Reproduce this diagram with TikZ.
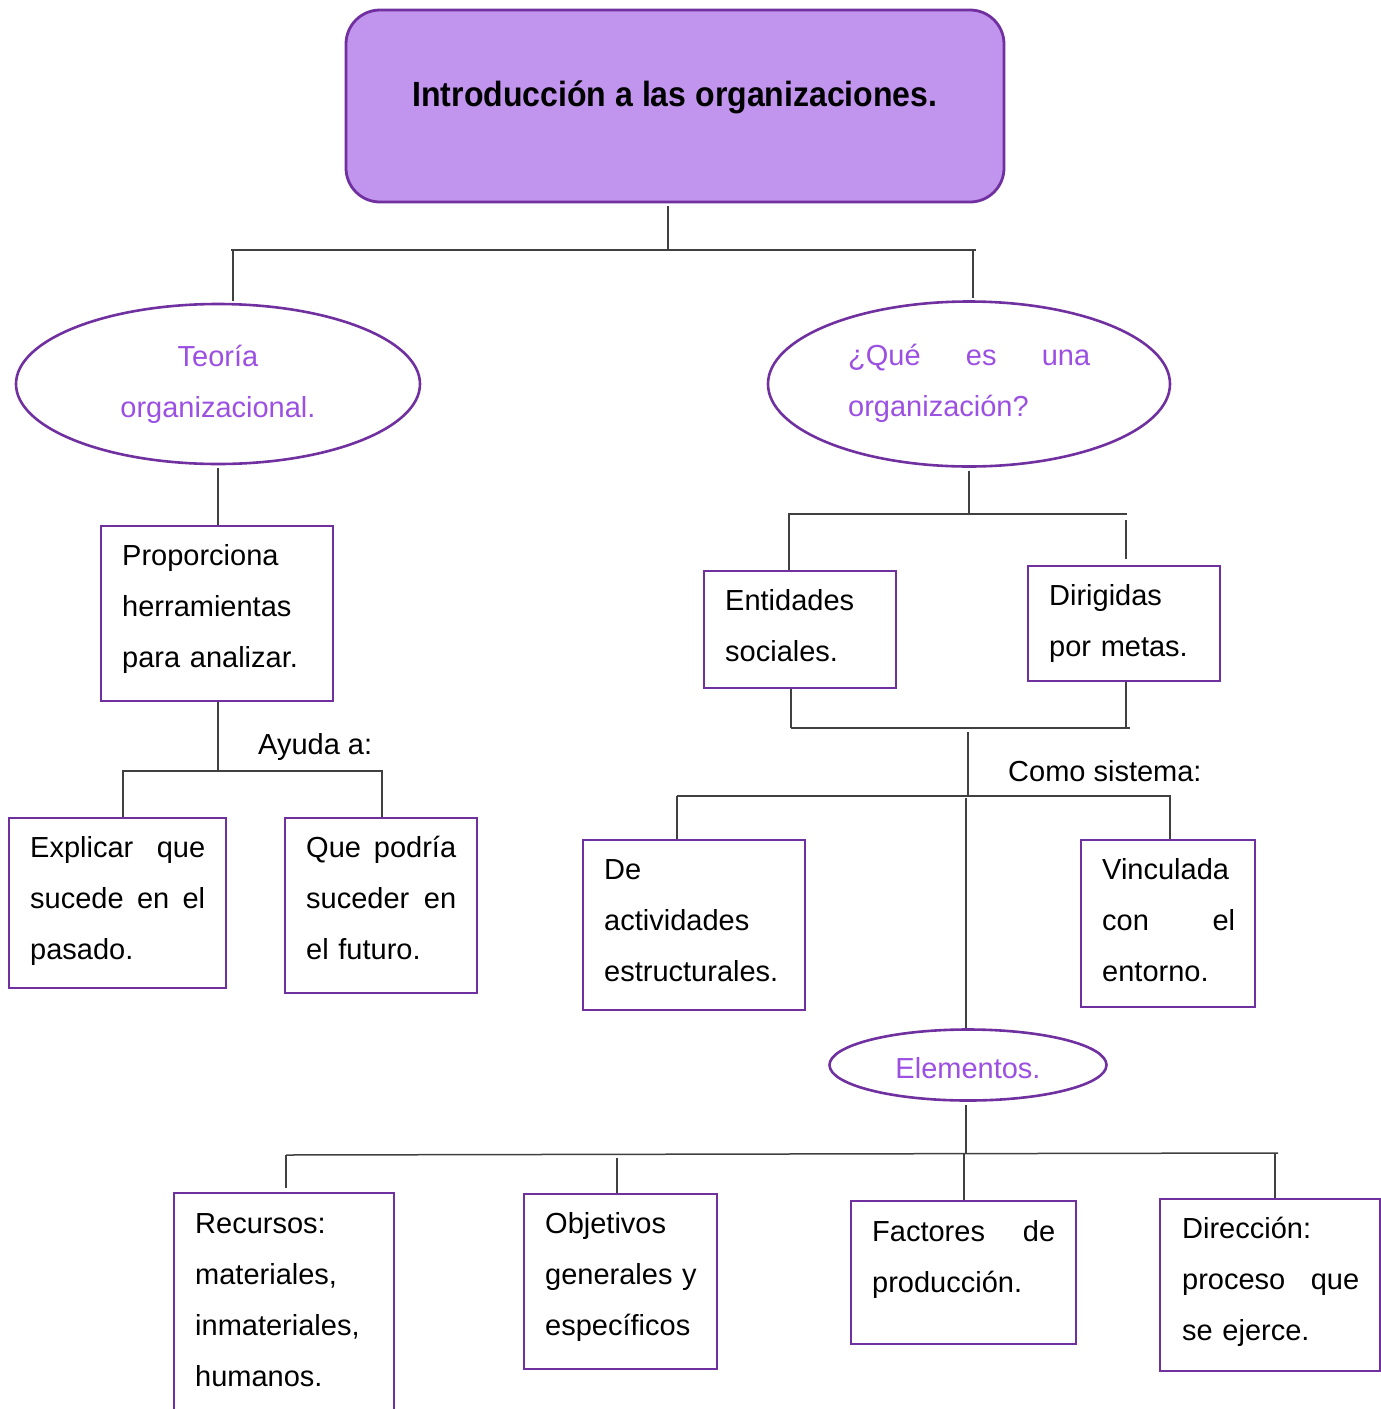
\documentclass[tikz,border=0pt]{standalone}
\usepackage{fontspec}
\setmainfont{Liberation Sans}
\usetikzlibrary{shapes.geometric,fit}
\definecolor{pfill}{HTML}{C194EE}
\definecolor{pline}{HTML}{7030A0}
\definecolor{ptext}{HTML}{9B50E2}
\definecolor{lgray}{HTML}{404040}
\newcommand{\bodyfont}{\fontsize{29}{51}\selectfont}
\newcommand{\jl}[2]{\makebox[#1pt][l]{#2}}
\begin{document}
\begin{tikzpicture}[x=1pt,y=-1pt,
  box/.style={draw=pline, line width=2.8pt, inner sep=0pt},
  titlebox/.style={draw=pline, line width=2.8pt, fill=pfill, rounded corners=34pt, inner sep=0pt},
  oval/.style={draw=pline, line width=2.6pt, ellipse, inner sep=0pt},
  conn/.style={draw=lgray, line width=1.5pt},
  txt/.style={anchor=base west, inner sep=0pt, text width=#1, font=\bodyfont},
  ovtxt/.style={anchor=base, inner sep=0pt, text width=#1, align=center, font=\bodyfont, text=ptext},
  lbl/.style={anchor=base west, inner sep=0pt, font=\bodyfont}]
\useasboundingbox (0,0) rectangle (1381,1409);

% ---- shapes ----
\node[titlebox, fit={(346,10)(1004,202)}] (title) {};
\node[anchor=base, inner sep=0pt, font=\fontsize{35}{40}\selectfont\bfseries] (ttitle) at (675,106)
  {\scalebox{0.915}[1]{Introducción a las organizaciones.}};

\node[oval, minimum width=404pt, minimum height=160pt] (ell1) at (218,384) {};
\node[ovtxt=300pt] (tell1) at (218,366) {Teoría\\organizacional.};

\node[oval, minimum width=402pt, minimum height=165pt] (ell2) at (969,384) {};
\node[txt=242pt, text=ptext] (tell2) at (848,365) {\jl{242}{¿Qué\hfill es\hfill una}\\organización?};

\node[box, fit={(101,526)(333,701)}] (prop) {};
\node[txt=210pt] (tprop) at (122,565) {Proporciona\\herramientas\\para analizar.};

\node[box, fit={(9,818)(226,988)}] (expl) {};
\node[txt=175pt] (texpl) at (30,857) {\jl{175}{Explicar\hfill que}\\\jl{175}{sucede\hfill en\hfill el}\\pasado.};

\node[box, fit={(285,818)(477,993)}] (que) {};
\node[txt=150pt] (tque) at (306,857) {\jl{150}{Que\hfill podría}\\\jl{150}{suceder\hfill en}\\el futuro.};

\node[box, fit={(704,571)(896,688)}] (ent) {};
\node[txt=170pt] (tent) at (725,610) {Entidades\\sociales.};

\node[box, fit={(1028,566)(1220,681)}] (dir) {};
\node[txt=170pt] (tdir) at (1049,605) {Dirigidas\\por metas.};

\node[box, fit={(583,840)(805,1010)}] (deact) {};
\node[txt=200pt] (tdeact) at (604,879) {De\\actividades\\estructurales.};

\node[box, fit={(1081,840)(1255,1007)}] (vinc) {};
\node[txt=133pt] (tvinc) at (1102,879) {Vinculada\\\jl{133}{con\hfill el}\\entorno.};

\node[oval, minimum width=277pt, minimum height=71pt] (elem) at (968,1065) {};
\node[ovtxt=260pt] (telem) at (968,1078) {Elementos.};

\draw[pline, line width=2.8pt] (174,1440) -- (174,1193) -- (394,1193) -- (394,1440);
\coordinate (rec) at (284,1193);
\node[txt=200pt] (trec) at (195,1233) {Recursos:\\materiales,\\inmateriales,\\humanos.};

\node[box, fit={(524,1194)(717,1369)}] (obj) {};
\node[txt=180pt] (tobj) at (545,1233) {Objetivos\\generales y\\específicos};

\node[box, fit={(851,1201)(1076,1344)}] (fac) {};
\node[txt=183pt] (tfac) at (872,1241) {\jl{183}{Factores\hfill de}\\producción.};

\node[box, fit={(1160,1199)(1380,1371)}] (dirc) {};
\node[txt=177pt] (tdirc) at (1182,1238) {Dirección:\\\jl{177}{proceso\hfill que}\\se ejerce.};

\node[lbl] (ayuda) at (258,754) {Ayuda a:};
\node[lbl] (como) at (1008,781) {Como sistema:};

% ---- connectors ----
\coordinate (j0) at (668,250);
\coordinate (h0l) at (231,250);
\coordinate (h0r) at (976,250);
\coordinate (d0a) at (233,250);
\coordinate (d0b) at (973,250);
\draw[conn] ([yshift=-3pt]title.south -| j0) -- (j0);
\draw[conn] (h0l) -- (h0r);
\draw[conn] (d0a) -- ([yshift=2pt]d0a |- ell1.north);
\draw[conn] (d0b) -- ([yshift=2pt]d0b |- ell2.north);

\draw[conn] ([yshift=-3pt]ell1.south) -- (prop.north -| ell1.south);

\coordinate (j1) at (218,771);
\coordinate (h1l) at (122,771);
\coordinate (h1r) at (383,771);
\draw[conn] (prop.south -| j1) -- (j1);
\draw[conn] (h1l) -- (h1r);
\draw[conn] (123,771) coordinate (d1a) -- (d1a |- expl.north);
\draw[conn] (382,771) coordinate (d1b) -- (d1b |- que.north);

\coordinate (j2) at (969,514);
\coordinate (h2l) at (788,514);
\coordinate (h2r) at (1127,514);
\draw[conn] ([yshift=-3pt]ell2.south -| j2) -- (j2);
\draw[conn] (h2l) -- (h2r);
\draw[conn] (789,514) coordinate (d2a) -- (d2a |- ent.north);
\draw[conn] (1126,520) coordinate (d2b) -- ([yshift=6pt]d2b |- dir.north);

\coordinate (h3l) at (791,728);
\coordinate (h3r) at (1130,728);
\draw[conn] (ent.south -| h3l) -- (h3l);
\draw[conn] (dir.south -| 1126,0) coordinate (u3) -- (u3 |- h3r);
\draw[conn] (h3l) -- (h3r);

\coordinate (j4) at (968,796);
\coordinate (h4l) at (677,796);
\coordinate (h4r) at (1171,796);
\draw[conn] (968,732) coordinate (s4) -- (j4);
\draw[conn] (h4l) -- (h4r);
\draw[conn] (h4l) -- (h4l |- deact.north);
\draw[conn] (1170,796) coordinate (d4b) -- (d4b |- vinc.north);

\draw[conn] (966,798) coordinate (s5) -- (s5 |- elem.north);

\coordinate (j6) at (966,1153);
\coordinate (h6l) at (286,1155);
\coordinate (h6r) at (1278,1153);
\draw[conn] ([yshift=-3pt]elem.south -| j6) -- (j6);
\draw[conn] (h6l) -- (h6r);
\draw[conn] (h6l) -- ([yshift=5pt]h6l |- rec);
\draw[conn] (617,1158) coordinate (d6b) -- (d6b |- obj.north);
\draw[conn] (964,1153) coordinate (d6c) -- (d6c |- fac.north);
\draw[conn] (1275,1153) coordinate (d6d) -- (d6d |- dirc.north);
\end{tikzpicture}
\end{document}
